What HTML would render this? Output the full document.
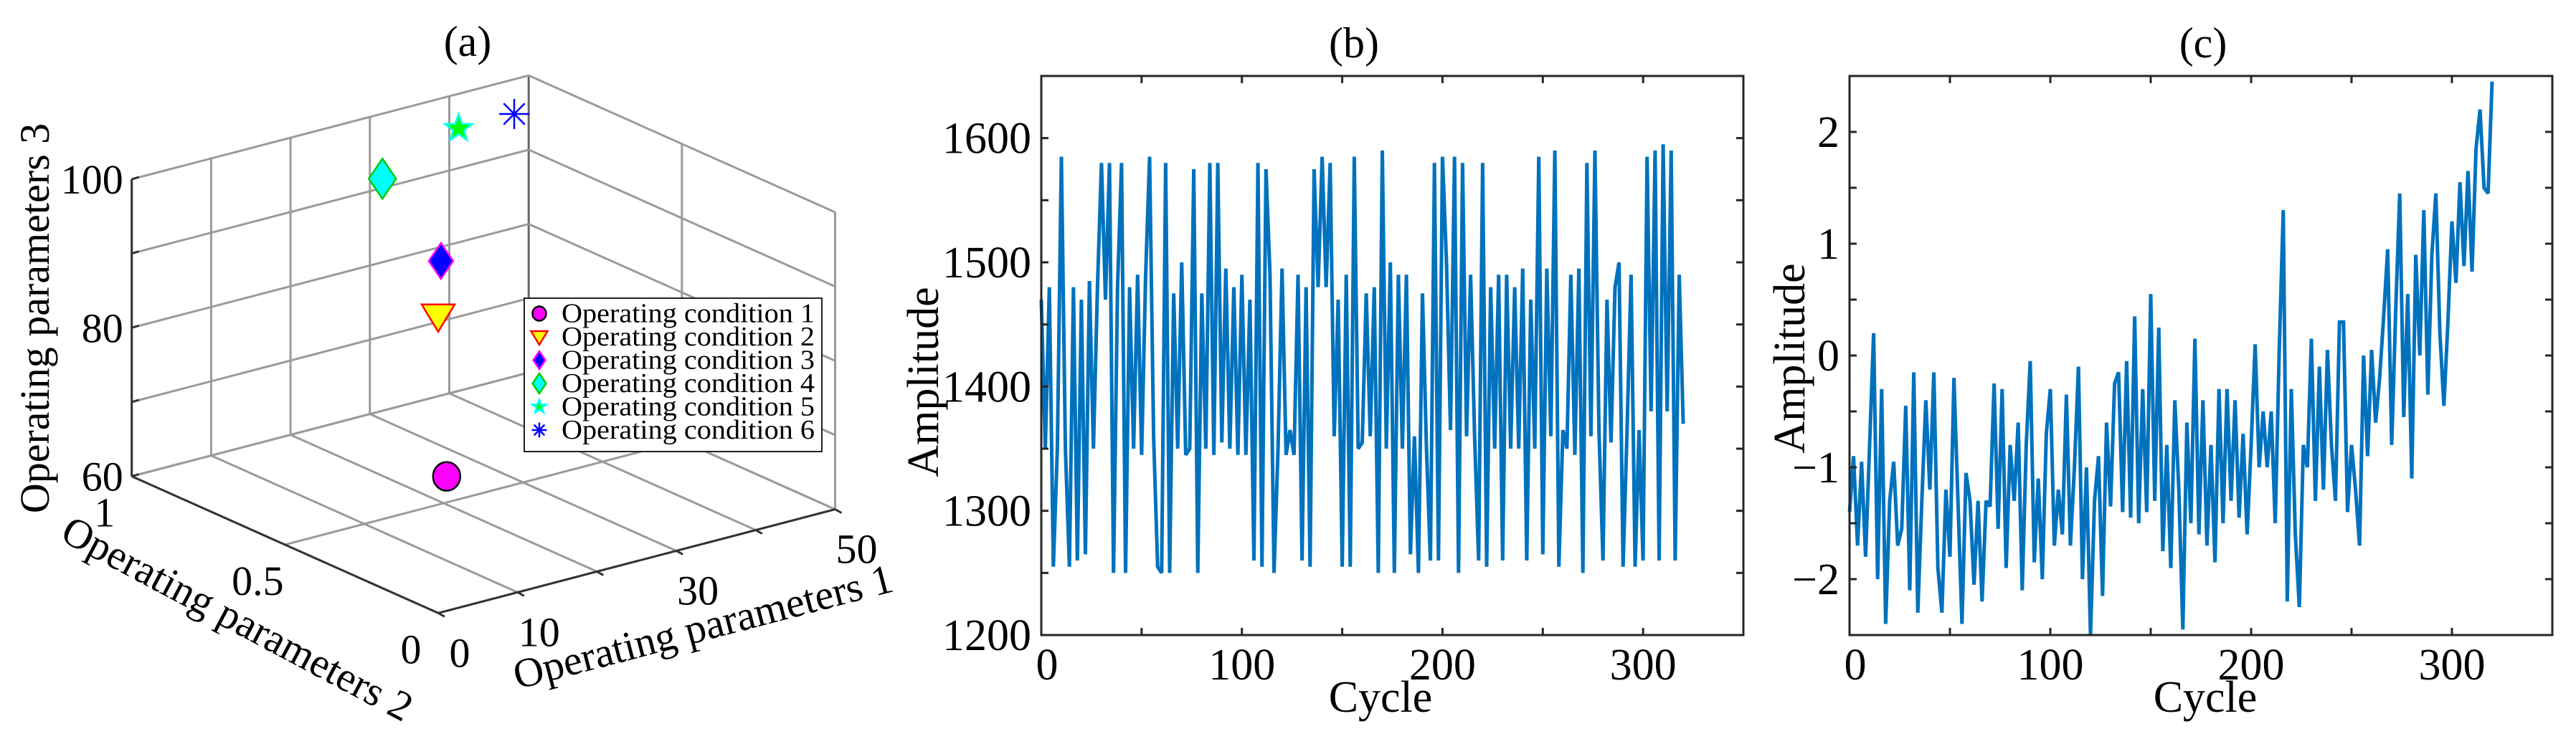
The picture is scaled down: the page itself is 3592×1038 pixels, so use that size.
<!DOCTYPE html>
<html><head><meta charset="utf-8"><style>
html,body{margin:0;padding:0;background:#fff;}
svg{display:block;font-family:"Liberation Serif","Times New Roman",serif;}
</style></head><body>
<svg id="fig" width="3592" height="1038" viewBox="0 0 3592 1038" xmlns="http://www.w3.org/2000/svg">
<rect width="3592" height="1038" fill="#fff"/>
<g id="pa"></g>
<g id="pb"></g>
<g id="pc"></g>
</svg>
<script>
// ---------- Panel (a) data ----------
const condNames = ["Operating condition 1","Operating condition 2","Operating condition 3","Operating condition 4","Operating condition 5","Operating condition 6"];
const param1 = [25, 0, 10, 20, 35, 42];
const param2 = [0.62, 0, 0.25, 0.7, 0.84, 0.84];
const param3 = [60, 100, 100, 100, 100, 100];
const p1Ticks = [0, 10, 20, 30, 40, 50];
const p1Labels = ["0", "10", "", "30", "", "50"];
const p2Ticks = [0, 0.5, 1];
const p2Labels = ["0", "0.5", "1"];
const p3Ticks = [60, 70, 80, 90, 100];
const p3Labels = ["60", "", "80", "", "100"];

// ---------- Panel (b) data ----------
const ampB = [1470,1350,1480,1255,1350,1585,1350,1255,1480,1260,
1470,1265,1485,1350,1480,1580,1470,1580,1250,1480,
1580,1250,1480,1350,1490,1345,1490,1585,1360,1255,
1250,1580,1250,1475,1350,1500,1345,1350,1575,1250,
1475,1350,1580,1345,1580,1355,1495,1350,1480,1345,
1490,1345,1470,1260,1580,1255,1575,1490,1250,1350,
1495,1345,1365,1345,1490,1260,1480,1255,1575,1480,
1585,1480,1580,1360,1470,1255,1490,1255,1585,1350,
1355,1475,1360,1480,1250,1590,1350,1500,1250,1490,
1350,1490,1265,1360,1250,1475,1350,1260,1580,1260,
1585,1500,1365,1585,1250,1580,1360,1490,1360,1260,
1580,1255,1480,1350,1490,1260,1490,1350,1480,1350,
1495,1260,1470,1350,1585,1265,1495,1360,1590,1255,
1365,1350,1490,1345,1495,1250,1580,1360,1590,1365,
1260,1470,1355,1480,1500,1255,1365,1490,1255,1365,
1260,1585,1380,1590,1260,1595,1380,1590,1260,1490,
1370];
const bYTicks = [1200,1250,1300,1350,1400,1450,1500,1550,1600,1650];
const bYLabels = ["1200","","1300","","1400","","1500","","1600",""];
// ---------- Panel (c) data ----------
const ampC = [-1.4,-0.9,-1.7,-0.95,-1.8,-0.8,0.2,-2.0,-0.3,-2.4,
-1.3,-0.95,-1.7,-1.55,-0.45,-2.1,-0.15,-2.3,-1.3,-0.4,
-1.2,-0.15,-1.9,-2.3,-1.2,-1.8,-0.2,-1.3,-2.4,-1.05,
-1.3,-2.05,-1.3,-2.2,-1.3,-1.35,-0.25,-1.55,-0.3,-1.9,
-0.8,-1.3,-0.6,-2.1,-0.8,-0.05,-1.85,-1.1,-2.0,-0.7,
-0.3,-1.7,-1.2,-1.6,-0.35,-1.7,-1.0,-0.1,-2.0,-1.0,
-2.5,-1.3,-0.9,-2.15,-0.6,-1.35,-0.25,-0.15,-1.4,-0.05,
-1.45,0.35,-1.5,-0.3,-1.4,0.55,-1.3,0.25,-1.75,-0.8,
-1.9,-0.4,-1.2,-2.45,-0.6,-1.5,0.15,-1.6,-0.4,-1.7,
-0.8,-1.85,-0.3,-1.5,-0.3,-1.3,-0.4,-1.45,-0.7,-1.6,
-0.8,0.1,-1.0,-0.5,-1.0,-0.5,-1.5,0.05,1.3,-2.2,
-0.3,-1.6,-2.25,-0.8,-1.0,0.15,-1.3,-0.1,-1.2,0.05,
-0.8,-1.3,0.3,0.3,-1.4,-0.8,-1.2,-1.7,0.0,-0.9,
0.05,-0.6,-0.2,0.35,0.95,-0.8,0.4,1.45,-0.55,0.55,
-1.1,0.9,0.0,1.3,-0.35,0.9,1.45,0.2,-0.45,0.3,
1.2,0.65,1.55,0.8,1.65,0.75,1.85,2.2,1.5,1.45,
2.45];
const cYTicks = [-2.5,-2,-1.5,-1,-0.5,0,0.5,1,1.5,2,2.5];
const cYLabels = ["","\u22122","","\u22121","","0","","1","","2",""];
const xTicks = [0,50,100,150,200,250,300,350];
const xLabels = ["0","","100","","200","","300",""];
const lastCycle = 320;

const NS = "http://www.w3.org/2000/svg";
function mk(parent, tag, attrs, text){
  const e = document.createElementNS(NS, tag);
  for (const k in attrs) e.setAttribute(k, attrs[k]);
  if (text !== undefined) e.textContent = text;
  parent.appendChild(e);
  return e;
}

// ---------- Panel (a) ----------
(function(){
  const g = document.getElementById('pa');
  const O = [183.7, 664.5], A = [553.5, -144.7], B = [427.3, 190.8], C = [0, -414.5];
  function P(p1, p2, z){
    const a = p1/50, b = 1 - p2, c = (z-60)/40;
    return [O[0]+a*A[0]+b*B[0]+c*C[0], O[1]+a*A[1]+b*B[1]+c*C[1]];
  }
  function line(p, q, col, w, name){
    const l = mk(g, 'line', {x1:p[0], y1:p[1], x2:q[0], y2:q[1], stroke:col, 'stroke-width':w});
    
    
  }
  const grid = '#9a9a9a';
  // left wall (p2 = 1)
  p1Ticks.forEach(v => line(P(v,1,60), P(v,1,100), v===50 ? '#666' : grid, 3, 'grid-left-wall-vertical'));
  p3Ticks.forEach(z => line(P(0,1,z), P(50,1,z), grid, 3, 'grid-left-wall-horizontal'));
  // right wall (p1 = 50)
  p2Ticks.forEach(v => { if (v !== 1) line(P(50,v,60), P(50,v,100), grid, 3, 'grid-right-wall-vertical'); });
  p3Ticks.forEach(z => line(P(50,1,z), P(50,0,z), grid, 3, 'grid-right-wall-horizontal'));
  // floor
  p1Ticks.forEach(v => line(P(v,1,60), P(v,0,60), grid, 3, 'grid-floor-p1'));
  p2Ticks.forEach(v => line(P(0,v,60), P(50,v,60), grid, 3, 'grid-floor-p2'));
  // front axes
  line(P(0,1,60), P(0,1,100), '#333', 3, 'z-axis-line');
  line(P(0,1,60), P(0,0,60), '#333', 3, 'param2-axis-line');
  line(P(0,0,60), P(50,0,60), '#333', 3, 'param1-axis-line');
  // z ticks & labels
  p3Ticks.forEach((z,i) => {
    const p = P(0,1,z);
    line(p, [p[0]+10, p[1]-3], '#333', 3, 'z-tick');
    if (p3Labels[i]) {
      const t = mk(g, 'text', {x:p[0]-12, y:p[1]+20, 'font-size':58, 'text-anchor':'end', fill:'#000'}, p3Labels[i]);
      
      
    }
  });
  p2Ticks.forEach((v,i) => {
    const p = P(0,v,60);
    const t = mk(g, 'text', {x:p[0]-38, y:p[1]+70, 'font-size':58, 'text-anchor':'middle', fill:'#000'}, p2Labels[i]);
    
    
  });
  p1Ticks.forEach((v,i) => {
    const p = P(v,0,60);
    line(p, [p[0]+9, p[1]+5], '#333', 3, 'param1-tick');
    if (p1Labels[i]) {
      const t = mk(g, 'text', {x:p[0]+30, y:p[1]+75, 'font-size':58, 'text-anchor':'middle', fill:'#000'}, p1Labels[i]);
      
      
    }
  });
  // axis titles
  let t = mk(g, 'text', {x:0, y:0, 'font-size':58, 'text-anchor':'middle', fill:'#000', transform:'translate(68,444) rotate(-90)'}, 'Operating parameters 3');
   
  t = mk(g, 'text', {x:0, y:0, 'font-size':58, 'text-anchor':'middle', fill:'#000', transform:'translate(322,880) rotate(28)'}, 'Operating parameters 2');
   
  t = mk(g, 'text', {x:0, y:0, 'font-size':58, 'text-anchor':'middle', fill:'#000', transform:'translate(985,893) rotate(-14.6)'}, 'Operating parameters 1');
   
  t = mk(g, 'text', {x:652, y:78, 'font-size':60, 'text-anchor':'middle', fill:'#000'}, '(a)');
   

  // markers
  function marker(parent, k, cx, cy, s){
    let e;
    if (k === 0) e = mk(parent, 'ellipse', {cx:cx, cy:cy, rx:19*s, ry:20*s, fill:'#ff00ff', stroke:'#000', 'stroke-width':2.5});
    else if (k === 1) e = mk(parent, 'polygon', {points:`${cx-23*s},${cy-16*s} ${cx+23*s},${cy-16*s} ${cx},${cy+22*s}`, fill:'#ffff00', stroke:'#ff0000', 'stroke-width':2.5});
    else if (k === 2) e = mk(parent, 'polygon', {points:`${cx},${cy-25*s} ${cx+17*s},${cy} ${cx},${cy+25*s} ${cx-17*s},${cy}`, fill:'#0000ff', stroke:'#ff00ff', 'stroke-width':2.5});
    else if (k === 3) e = mk(parent, 'polygon', {points:`${cx},${cy-28*s} ${cx+19*s},${cy} ${cx},${cy+28*s} ${cx-19*s},${cy}`, fill:'#00ffff', stroke:'#00cc00', 'stroke-width':2.5});
    else if (k === 4) {
      let pts = [];
      for (let j=0;j<10;j++){ const r = (j%2===0?20:8)*s; const a = -Math.PI/2 + j*Math.PI/5; pts.push((cx+r*Math.cos(a)).toFixed(1)+','+(cy+r*Math.sin(a)).toFixed(1)); }
      e = mk(parent, 'polygon', {points:pts.join(' '), fill:'#00ff00', stroke:'#00ffff', 'stroke-width':2.5});
    } else {
      e = mk(parent, 'g', {stroke:'#0000ff', 'stroke-width':2.5});
      const r = 21*s;
      mk(e,'line',{x1:cx-r,y1:cy,x2:cx+r,y2:cy});
      mk(e,'line',{x1:cx,y1:cy-r,x2:cx,y2:cy+r});
      mk(e,'line',{x1:cx-r*0.7,y1:cy-r*0.7,x2:cx+r*0.7,y2:cy+r*0.7});
      mk(e,'line',{x1:cx-r*0.7,y1:cy+r*0.7,x2:cx+r*0.7,y2:cy-r*0.7});
    }
    return e;
  }
  condNames.forEach((n,i) => {
    const p = P(param1[i], param2[i], param3[i]);
    const m = marker(g, i, p[0], p[1], 1);
    
    
  });
  // legend
  const lg = mk(g, 'g', {});
  
  
  mk(lg, 'rect', {x:731, y:416, width:415, height:214, fill:'#fff', stroke:'#222', 'stroke-width':2});
  condNames.forEach((n,i) => {
    const y = 437.5 + i*32.5;
    const it = mk(lg, 'g', {});
    
    
    marker(it, i, 752, y, 0.5);
    mk(it, 'text', {x:783, y:y+12, 'font-size':38, fill:'#000', textLength:353, lengthAdjust:'spacingAndGlyphs'}, n);
  });
})();

// ---------- 2D line panels ----------
function linePanel(gid, L, T, R, Bm, yMin, yMax, yTicks, yLabels, vals, title, titleX, ylabX, ylabY, cycleX){
  const g = document.getElementById(gid);
  const xMin = 0, xMax = 350;
  const X = v => L + (v - xMin) / (xMax - xMin) * (R - L);
  const Y = v => Bm - (v - yMin) / (yMax - yMin) * (Bm - T);
  const step = lastCycle / (vals.length - 1);
  let d = '';
  vals.forEach((v,i) => { d += (i ? 'L' : 'M') + X(i*step).toFixed(1) + ',' + Y(v).toFixed(1); });
  const path = mk(g, 'path', {d:d, fill:'none', stroke:'#0072BD', 'stroke-width':5, 'stroke-linejoin':'miter', 'stroke-miterlimit':3});
  
  
  const box = mk(g, 'rect', {x:L, y:T, width:R-L, height:Bm-T, fill:'none', stroke:'#262626', 'stroke-width':3});
  
  
  xTicks.forEach((v,i) => {
    const x = X(v);
    mk(g, 'line', {x1:x, y1:Bm, x2:x, y2:Bm-10, stroke:'#262626', 'stroke-width':3});
    mk(g, 'line', {x1:x, y1:T, x2:x, y2:T+10, stroke:'#262626', 'stroke-width':3});
    if (xLabels[i]) {
      const t = mk(g, 'text', {x:x + (v===0?8:0), y:948, 'font-size':62, 'text-anchor':'middle', fill:'#000'}, xLabels[i]);
      
      
    }
  });
  yTicks.forEach((v,i) => {
    const y = Y(v);
    mk(g, 'line', {x1:L, y1:y, x2:L+10, y2:y, stroke:'#262626', 'stroke-width':3});
    mk(g, 'line', {x1:R, y1:y, x2:R-10, y2:y, stroke:'#262626', 'stroke-width':3});
    if (yLabels[i]) {
      const t = mk(g, 'text', {x:L-14, y:y+21, 'font-size':62, 'text-anchor':'end', fill:'#000'}, yLabels[i]);
      
      
    }
  });
  let t = mk(g, 'text', {x:cycleX, y:993, 'font-size':62, 'text-anchor':'middle', fill:'#000'}, 'Cycle');
   
  t = mk(g, 'text', {x:0, y:0, 'font-size':62, 'text-anchor':'middle', fill:'#000', transform:`translate(${ylabX},${ylabY}) rotate(-90)`}, 'Amplitude');
   
  t = mk(g, 'text', {x:titleX, y:80, 'font-size':60, 'text-anchor':'middle', fill:'#000'}, title);
   
}
linePanel('pb', 1452, 106, 2431, 886, 1200, 1650, bYTicks, bYLabels, ampB, '(b)', 1888, 1308, 533, 1925);
linePanel('pc', 2579, 106, 3559, 886, -2.5, 2.5, cYTicks, cYLabels, ampC, '(c)', 3072, 2516, 500, 3075);
</script>
</body></html>
